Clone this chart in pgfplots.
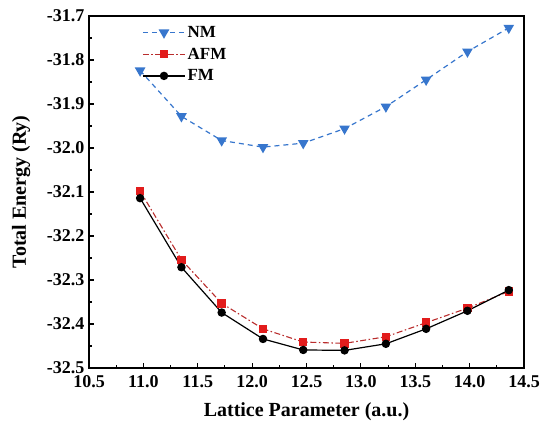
\documentclass[border=0pt]{standalone}
\usepackage{fontspec}
\setmainfont{Liberation Serif}
\usepackage{pgfplots}
\pgfplotsset{compat=1.18}
\definecolor{nmblue}{RGB}{55,118,205}
\definecolor{afmred}{RGB}{226,28,28}
\definecolor{afmline}{RGB}{185,45,45}
\begin{document}
\begin{tikzpicture}
\begin{axis}[
  scale only axis,
  width=435pt, height=352pt,
  xmin=10.5, xmax=14.5, ymin=-32.5, ymax=-31.7,
  xtick={10.5,11,...,14.5},
  ytick={-32.5,-32.4,-32.3,-32.2,-32.1,-32.0,-31.9,-31.8,-31.7},
  minor x tick num=1, minor y tick num=1,
  tick pos=left, tick align=inside,
  major tick length=5pt, minor tick length=3pt,
  axis line style={line width=1.3pt},
  every tick/.style={black, line width=1.1pt},
  /pgf/number format/assume math mode=true,
  /pgf/number format/.cd, fixed, precision=1, fixed zerofill, /pgfplots/.cd,
  tick label style={font=\fontsize{18}{20}\selectfont\bfseries},
  xticklabel style={yshift=-4pt},
  yticklabel style={xshift=-1pt},
  xlabel={Lattice Parameter (a.u.)},
  ylabel={Total Energy (Ry)},
  label style={font=\fontsize{20}{22}\selectfont\bfseries},
  xlabel style={anchor=center, at={(axis description cs:0.5,-0.125)}},
  ylabel style={anchor=center, rotate=0, at={(axis description cs:-0.156,0.5)}},
  legend style={draw=none, fill=none, at={(axis description cs:0.12,0.98)}, anchor=north west,
    font=\fontsize{17}{19}\selectfont\bfseries, row sep=5pt, inner sep=1pt},
  legend cell align=left,
  legend image code/.code={\draw[mark repeat=2,mark phase=2,#1] plot coordinates {(0pt,0pt) (21pt,0pt) (42pt,0pt)};},
]
\addplot[nmblue, line width=1.2pt, dash pattern=on 5pt off 4pt, mark=triangle*, mark size=5pt,
  mark options={solid, rotate=180, fill=nmblue}] coordinates {
(10.97,-31.824) (11.35,-31.928) (11.72,-31.983) (12.10,-31.998) (12.47,-31.989)
(12.85,-31.956) (13.23,-31.906) (13.60,-31.845) (13.98,-31.781) (14.36,-31.727)};
\addlegendentry{NM}
\addplot[afmline, line width=1.1pt, dash pattern=on 6pt off 2.5pt on 1.5pt off 2.5pt, mark=square*, mark size=3.7pt,
  mark options={solid, draw=afmred, fill=afmred}] coordinates {
(10.97,-32.098) (11.35,-32.254) (11.72,-32.353) (12.10,-32.411) (12.47,-32.441)
(12.85,-32.444) (13.23,-32.429) (13.60,-32.397) (13.98,-32.364) (14.36,-32.326)};
\addlegendentry{AFM}
\addplot[black, line width=1.2pt, mark=*, mark size=3.6pt, mark options={solid, fill=black}] coordinates {
(10.97,-32.114) (11.35,-32.271) (11.72,-32.374) (12.10,-32.434) (12.47,-32.459)
(12.85,-32.460) (13.23,-32.445) (13.60,-32.411) (13.98,-32.370) (14.36,-32.323)};
\addlegendentry{FM}
\end{axis}
\pgfresetboundingbox
\path ([xshift=-89pt,yshift=-55pt]current axis.south west) rectangle ([xshift=16pt,yshift=16pt]current axis.north east);
\end{tikzpicture}
\end{document}
